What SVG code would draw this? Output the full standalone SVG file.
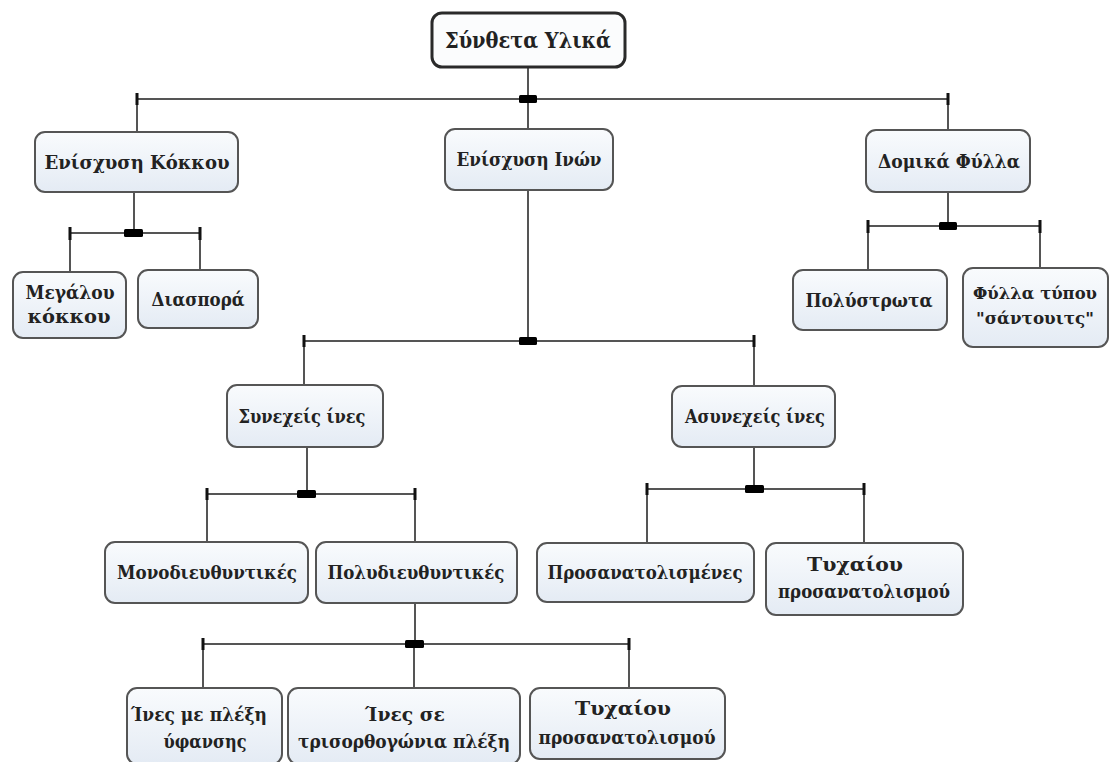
<svg xmlns="http://www.w3.org/2000/svg" width="1110" height="762" viewBox="0 0 1110 762">
<defs>
<linearGradient id="g" x1="0" y1="0" x2="0" y2="1">
<stop offset="0" stop-color="#f9fbfd"/>
<stop offset="1" stop-color="#e4ebf4"/>
</linearGradient>
<style>
.box{fill:url(#g);stroke:#555;stroke-width:2}
.root{fill:#fbfcfd;stroke:#2a2a2a;stroke-width:3}
.t{font-family:"DejaVu Serif","Liberation Serif",serif;font-weight:bold;font-size:19px;fill:#222;text-anchor:middle}
.rt{font-size:22px}
.sm{font-size:17px}
.ln{stroke:#555;stroke-width:2;fill:none}
.j{fill:#000}
.k{fill:#111}
</style>
</defs>
<rect width="1110" height="762" fill="#ffffff"/>
<g id="connectors">
<path class="ln" d="M528 67V99M137 99H948M137 99V132M528 99V129M948 99V130"/>
<path class="ln" d="M134 192V233M70 233H200M70 233V272M200 233V270"/>
<path class="ln" d="M948 192V226M868 226H1040M868 226V270M1040 226V268"/>
<path class="ln" d="M528 190V341M304 341H754M304 341V385M754 341V386"/>
<path class="ln" d="M307 447V494M207 494H415M207 494V542M415 494V542"/>
<path class="ln" d="M754 447V489M647 489H864M647 489V543M864 489V543"/>
<path class="ln" d="M415 603V644M203 644H629M203 644V688M414 644V688M629 644V688"/>
<rect class="j" x="519" y="95" width="18" height="8" rx="1.5"/>
<rect class="j" x="124" y="229" width="19" height="8" rx="1.5"/>
<rect class="j" x="939" y="222" width="18" height="8" rx="1.5"/>
<rect class="j" x="519" y="337" width="18" height="8" rx="1.5"/>
<rect class="j" x="297" y="490" width="19" height="8" rx="1.5"/>
<rect class="j" x="745" y="485" width="19" height="8" rx="1.5"/>
<rect class="j" x="405" y="640" width="19" height="8" rx="1.5"/>
<rect class="k" x="135.5" y="93" width="3" height="12"/>
<rect class="k" x="946.5" y="93" width="3" height="12"/>
<rect class="k" x="68.5" y="227" width="3" height="13"/>
<rect class="k" x="198.5" y="227" width="3" height="13"/>
<rect class="k" x="866.5" y="220" width="3" height="13"/>
<rect class="k" x="1038.5" y="220" width="3" height="13"/>
<rect class="k" x="302.5" y="335" width="3" height="12"/>
<rect class="k" x="752.5" y="335" width="3" height="12"/>
<rect class="k" x="205.5" y="488" width="3" height="12"/>
<rect class="k" x="413.5" y="488" width="3" height="12"/>
<rect class="k" x="645.5" y="483" width="3" height="12"/>
<rect class="k" x="862.5" y="483" width="3" height="12"/>
<rect class="k" x="201.5" y="638" width="3" height="12"/>
<rect class="k" x="627.5" y="638" width="3" height="12"/>
</g>
<g id="n-root">
<rect class="root" x="432" y="13" width="193" height="54" rx="10"/>
<text class="t rt" x="528" y="48" textLength="166" lengthAdjust="spacingAndGlyphs">Σύνθετα Υλικά</text>
</g>
<g id="n-kokkou">
<rect class="box" x="35" y="132" width="203" height="60" rx="10"/>
<text class="t" x="137" y="169" textLength="185" lengthAdjust="spacingAndGlyphs">Ενίσχυση Κόκκου</text>
</g>
<g id="n-inon">
<rect class="box" x="445" y="129" width="168" height="61" rx="10"/>
<text class="t" x="529" y="166" textLength="145" lengthAdjust="spacingAndGlyphs">Ενίσχυση Ινών</text>
</g>
<g id="n-domika">
<rect class="box" x="866" y="130" width="164" height="62" rx="10"/>
<text class="t" x="949" y="168" textLength="142" lengthAdjust="spacingAndGlyphs">Δομικά Φύλλα</text>
</g>
<g id="n-megalou">
<rect class="box" x="13" y="272" width="113" height="66" rx="10"/>
<text class="t" x="70" y="299" textLength="89" lengthAdjust="spacingAndGlyphs">Μεγάλου</text>
<text class="t" x="69" y="323" textLength="83" lengthAdjust="spacingAndGlyphs">κόκκου</text>
</g>
<g id="n-diaspora">
<rect class="box" x="138" y="270" width="120" height="58" rx="10"/>
<text class="t" x="198" y="306" textLength="93" lengthAdjust="spacingAndGlyphs">Διασπορά</text>
</g>
<g id="n-polystrota">
<rect class="box" x="793" y="270" width="154" height="60" rx="10"/>
<text class="t" x="869" y="307" textLength="127" lengthAdjust="spacingAndGlyphs">Πολύστρωτα</text>
</g>
<g id="n-sandwich">
<rect class="box" x="963" y="268" width="145" height="79" rx="10"/>
<text class="t sm" x="1035" y="299" textLength="124" lengthAdjust="spacingAndGlyphs">Φύλλα τύπου</text>
<text class="t sm" x="1035" y="324" textLength="118" lengthAdjust="spacingAndGlyphs">"σάντουιτς"</text>
</g>
<g id="n-synecheis">
<rect class="box" x="227" y="385" width="156" height="62" rx="10"/>
<text class="t" x="302" y="423" textLength="127" lengthAdjust="spacingAndGlyphs">Συνεχείς ίνες</text>
</g>
<g id="n-asynecheis">
<rect class="box" x="672" y="386" width="163" height="61" rx="10"/>
<text class="t" x="755" y="423" textLength="140" lengthAdjust="spacingAndGlyphs">Ασυνεχείς ίνες</text>
</g>
<g id="n-mono">
<rect class="box" x="105" y="542" width="203" height="61" rx="10"/>
<text class="t" x="207" y="579" textLength="180" lengthAdjust="spacingAndGlyphs">Μονοδιευθυντικές</text>
</g>
<g id="n-poly">
<rect class="box" x="316" y="542" width="201" height="61" rx="10"/>
<text class="t" x="416" y="579" textLength="177" lengthAdjust="spacingAndGlyphs">Πολυδιευθυντικές</text>
</g>
<g id="n-prosan">
<rect class="box" x="537" y="543" width="217" height="59" rx="10"/>
<text class="t" x="645" y="579" textLength="195" lengthAdjust="spacingAndGlyphs">Προσανατολισμένες</text>
</g>
<g id="n-tyxaiou1">
<rect class="box" x="766" y="543" width="197" height="72" rx="10"/>
<text class="t" x="855" y="571" textLength="96" lengthAdjust="spacingAndGlyphs">Τυχαίου</text>
<text class="t" x="864" y="598" textLength="172" lengthAdjust="spacingAndGlyphs">προσανατολισμού</text>
</g>
<g id="n-yfansis">
<rect class="box" x="127" y="688" width="155" height="76" rx="10"/>
<text class="t" x="199" y="721" textLength="136" lengthAdjust="spacingAndGlyphs">Ίνες με πλέξη</text>
<text class="t" x="205" y="748" textLength="83" lengthAdjust="spacingAndGlyphs">ύφανσης</text>
</g>
<g id="n-triso">
<rect class="box" x="288" y="688" width="232" height="76" rx="10"/>
<text class="t" x="405" y="721" textLength="80" lengthAdjust="spacingAndGlyphs">Ίνες σε</text>
<text class="t" x="404" y="748" textLength="212" lengthAdjust="spacingAndGlyphs">τρισορθογώνια πλέξη</text>
</g>
<g id="n-tyxaiou2">
<rect class="box" x="530" y="688" width="195" height="71" rx="10"/>
<text class="t" x="623" y="715" textLength="96" lengthAdjust="spacingAndGlyphs">Τυχαίου</text>
<text class="t" x="627" y="744" textLength="177" lengthAdjust="spacingAndGlyphs">προσανατολισμού</text>
</g>
</svg>
